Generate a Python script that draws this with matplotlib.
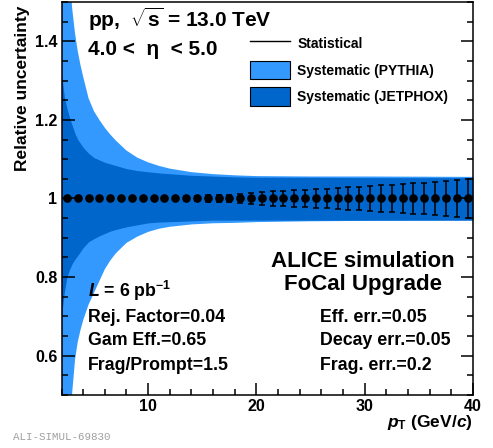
import numpy as np
import matplotlib
matplotlib.use("Agg")
import matplotlib.pyplot as plt
from matplotlib.lines import Line2D
from matplotlib.patches import Patch
from matplotlib.ticker import MultipleLocator, FuncFormatter

plt.rcParams["font.family"] = ["Liberation Sans", "DejaVu Sans"]
plt.rcParams["font.weight"] = "bold"
plt.rcParams["axes.labelweight"] = "bold"
plt.rcParams["mathtext.fontset"] = "custom"
plt.rcParams["mathtext.rm"] = "Liberation Sans:bold"
plt.rcParams["mathtext.it"] = "Liberation Sans:italic:bold"
plt.rcParams["mathtext.bf"] = "Liberation Sans:bold"

# ---------------------------------------------------------
# data
# ---------------------------------------------------------
pt = [2.5, 3.5, 4.5, 5.5, 6.5, 7.5, 8.5, 9.5, 10.5, 11.5, 12.5, 13.5, 14.5,
      15.5, 16.5, 17.5, 18.5, 19.5, 20.5, 21.5, 22.5, 23.5, 24.5, 25.5, 26.5,
      27.5, 28.5, 29.5, 30.5, 31.5, 32.5, 33.5, 34.5, 35.5, 36.5, 37.5, 38.5,
      39.5]
ratio = [1.0, 1.0, 1.0, 1.0, 1.0, 1.0, 1.0, 1.0, 1.0, 1.0, 1.0, 1.0, 1.0,
         1.0, 1.0, 1.0, 1.0, 1.0, 1.0, 1.0, 1.0, 1.0, 1.0, 1.0, 1.0,
         1.0, 1.0, 1.0, 1.0, 1.0, 1.0, 1.0, 1.0, 1.0, 1.0, 1.0, 1.0,
         1.0]
stat_err = [0.001, 0.001, 0.0015, 0.002, 0.002, 0.003, 0.003, 0.004, 0.004,
            0.005, 0.005, 0.006, 0.007, 0.008, 0.009, 0.010, 0.012, 0.014,
            0.016, 0.018, 0.020, 0.021, 0.022, 0.024, 0.024, 0.026, 0.028,
            0.030, 0.033, 0.034, 0.035, 0.037, 0.039, 0.040, 0.042, 0.044,
            0.046, 0.050]

# systematic bands: pT grid and relative half widths (up / down)
band_pt = [2.0, 2.25, 2.5, 2.75, 3.0, 3.25, 3.5, 3.75, 4.0, 4.5, 5.0, 5.5,
           6.0, 6.5, 7.0, 8.0, 9.0, 10.0, 11.0, 12.0, 14.0, 16.0, 18.0, 20.0,
           25.0, 30.0, 40.0]
pythia_up = [0.95, 0.78, 0.66, 0.56, 0.48, 0.42, 0.375, 0.34, 0.31, 0.255,
             0.222, 0.20, 0.18, 0.163, 0.148, 0.122, 0.104, 0.092, 0.083,
             0.076, 0.067, 0.062, 0.059, 0.057, 0.056, 0.056, 0.055]
pythia_dn = [0.95, 0.80, 0.70, 0.58, 0.49, 0.41, 0.365, 0.335, 0.31, 0.27,
             0.24, 0.21, 0.18, 0.158, 0.14, 0.113, 0.097, 0.085, 0.077,
             0.072, 0.066, 0.063, 0.062, 0.060, 0.058, 0.057, 0.056]
jetphox_up = [0.32, 0.26, 0.23, 0.205, 0.185, 0.165, 0.15, 0.14, 0.13,
              0.115, 0.104, 0.098, 0.092, 0.088, 0.084, 0.076, 0.071, 0.068,
              0.065, 0.063, 0.059, 0.057, 0.055, 0.054, 0.054, 0.053, 0.053]
jetphox_dn = [0.30, 0.24, 0.20, 0.18, 0.165, 0.154, 0.145, 0.135, 0.125,
              0.11, 0.102, 0.095, 0.089, 0.083, 0.079, 0.072, 0.067, 0.062,
              0.060, 0.059, 0.057, 0.055, 0.055, 0.055, 0.055, 0.055, 0.055]

light = "#3399ff"
dark = "#0066cc"

W, H = 493, 448
fig = plt.figure(figsize=(W / 100, H / 100), dpi=100)
ax = fig.add_axes([61.5 / W, 1 - 395 / H, (473 - 61.5) / W, (395 - 2) / H])

bx = np.array(band_pt)
ax.fill_between(bx, 1 - np.array(pythia_dn), 1 + np.array(pythia_up),
                color=light, lw=0, zorder=1)
ax.fill_between(bx, 1 - np.array(jetphox_dn), 1 + np.array(jetphox_up),
                color=dark, lw=0, zorder=1.1)
ax.errorbar(pt, ratio, yerr=stat_err, fmt="o", color="black", ms=5.2,
            elinewidth=1.1, capsize=2.2, capthick=1.1, zorder=3)

ax.set_xlim(2, 40)
ax.set_ylim(0.5, 1.5)
ax.xaxis.set_major_locator(MultipleLocator(10))
ax.xaxis.set_minor_locator(MultipleLocator(2))
ax.yaxis.set_major_locator(MultipleLocator(0.2))
ax.yaxis.set_minor_locator(MultipleLocator(0.05))
ax.yaxis.set_major_formatter(FuncFormatter(lambda v, p: f"{v:g}"))
ax.tick_params(which="both", direction="in", right=True, top=False,
               width=1.1, labelsize=11.5, pad=3)
ax.tick_params(which="major", length=9)
ax.tick_params(which="minor", length=4)
ax.set_axisbelow(False)
for s in ax.spines.values():
    s.set_linewidth(1.1)

ax.set_ylabel("Relative uncertainty", fontsize=12.5, loc="top")
ax.yaxis.set_label_coords(-0.077, 0.992)
ax.set_xlabel(r"$p_{\mathrm{T}}$ (GeV/$c$)", fontsize=12.5, loc="right")
ax.xaxis.set_label_coords(1.0, -0.046)

# legend
handles = [
    Line2D([], [], color="black", lw=1),
    Patch(facecolor=light, edgecolor="black", lw=0.8),
    Patch(facecolor=dark, edgecolor="black", lw=0.8),
]
labels = ["Statistical", "Systematic (PYTHIA)", "Systematic (JETPHOX)"]
fig.legend(handles, labels, loc="upper left",
           bbox_to_anchor=(250 / W, 1 - 34.5 / H), frameon=False,
           prop={"size": 10, "weight": "bold"}, handlelength=2.9,
           handleheight=1.65, labelspacing=0.58, handletextpad=0.5,
           borderpad=0, borderaxespad=0)


def ftext(x, y, s, **kw):
    fig.text(x / W, 1 - y / H, s, va="baseline", **kw)


ftext(88, 27, r"pp,  $\sqrt{\mathrm{s}}$ = 13.0 TeV", fontsize=15)
ftext(88, 55, "4.0 <  η  < 5.0", fontsize=15)
ftext(363, 266.7, "ALICE simulation", fontsize=16, ha="center")
ftext(363, 290, "FoCal Upgrade", fontsize=16, ha="center")

ftext(88, 296.7, r"$L$ = 6 pb$^{-1}$", fontsize=12.8)
ftext(88, 321.7, "Rej. Factor=0.04", fontsize=12.8)
ftext(88, 345, "Gam Eff.=0.65", fontsize=12.8)
ftext(88, 370, "Frag/Prompt=1.5", fontsize=12.8)
ftext(320, 321.7, "Eff. err.=0.05", fontsize=12.8)
ftext(320, 345, "Decay err.=0.05", fontsize=12.8)
ftext(320, 370, "Frag. err.=0.2", fontsize=12.8)

fig.text(13 / W, 1 - 437 / H, "ALI-SIMUL-69830", family="Liberation Mono",
         fontweight="normal", fontsize=7.8, color="#a0a0a0", va="center")

fig.savefig("out.png", dpi=100)
